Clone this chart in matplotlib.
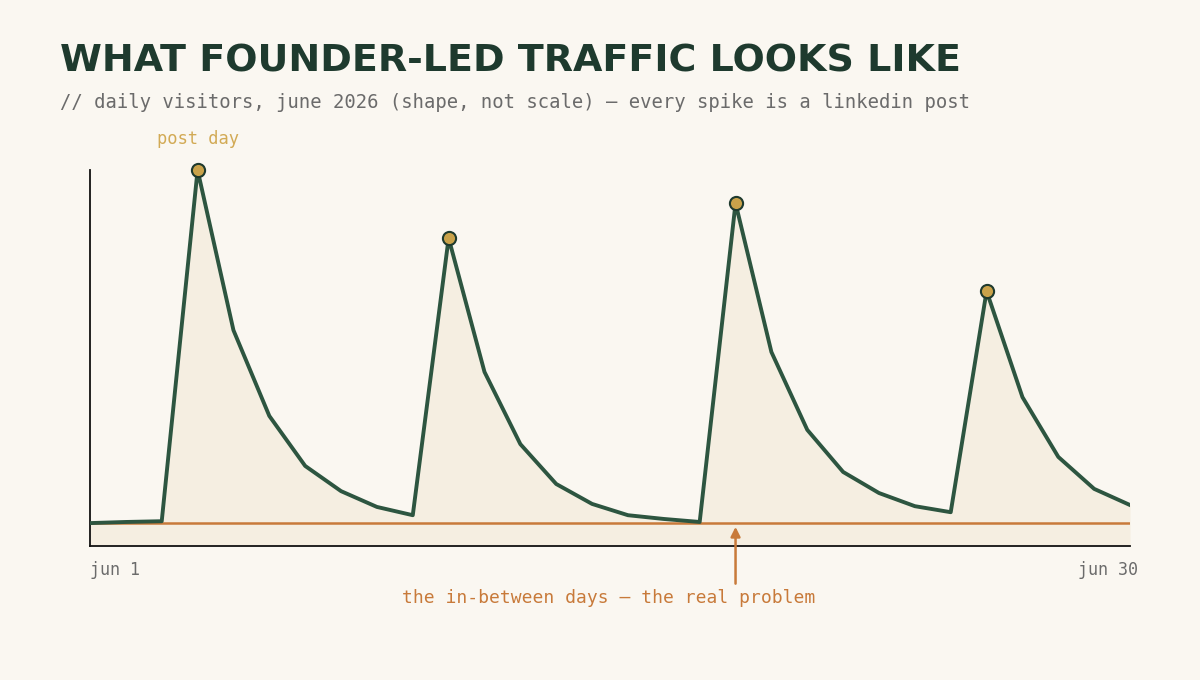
import numpy as np
import matplotlib
matplotlib.use("Agg")
import matplotlib.pyplot as plt

# daily visitors, june 2026 (shape only, arbitrary units)
days = np.arange(1, 31)
visitors = [6.1, 6.4, 6.6, 100.0, 57.4, 34.6, 21.3, 14.6, 10.4, 8.2,
            81.9, 46.3, 27.1, 16.5, 11.2, 8.2, 7.2, 6.4, 91.2, 51.6,
            30.9, 19.7, 14.1, 10.6, 9.0, 67.8, 39.6, 23.7, 15.2, 10.9]
post_days = [4, 11, 19, 26]
baseline = 6.1
arrow_day = 19
tick_days = [1, 30]
tick_labels = ["jun 1", "jun 30"]

BG = "#faf7f1"
FILL = "#f5eee1"
LINE = "#2d5540"
GOLD = "#c9a24a"
ORANGE = "#c87a3a"
DARK = "#1e3a2e"
GREY = "#6b6b6b"
MONO = "DejaVu Sans Mono"

fig = plt.figure(figsize=(12, 6.8), dpi=100, facecolor=BG)
ax = fig.add_axes([0.075, 0.197, 0.8667, 0.553])
ax.set_facecolor(BG)

ax.fill_between(days, visitors, 0, color=FILL, lw=0, zorder=1)
ax.plot(days, visitors, color=LINE, lw=2.8, zorder=3)
ax.axhline(baseline, color=ORANGE, lw=1.8, zorder=2)

peaks = [visitors[d - 1] for d in post_days]
ax.scatter(post_days, peaks, s=90, color=GOLD, edgecolor="#1e3a2e",
           linewidth=1.5, zorder=4, clip_on=False)

ax.set_xlim(1, 30)
ax.set_ylim(0, 100)
for s in ["top", "right"]:
    ax.spines[s].set_visible(False)
for s in ["left", "bottom"]:
    ax.spines[s].set_color("#111111")
    ax.spines[s].set_linewidth(1.3)
ax.set_yticks([])
ax.set_xticks([])

ax.annotate(tick_labels[0], (tick_days[0], 0), xytext=(0, -11),
            textcoords="offset points", ha="left", va="top",
            fontsize=12, family=MONO, color=GREY)
ax.annotate(tick_labels[1], (tick_days[1], 0), xytext=(6, -11),
            textcoords="offset points", ha="right", va="top",
            fontsize=12, family=MONO, color=GREY)

ax.annotate("post day", (post_days[0], 100), xytext=(0, 15.5),
            textcoords="offset points", ha="center", va="bottom",
            fontsize=12.3, family=MONO, color="#d2aa55", annotation_clip=False)

ax.annotate("", xy=(arrow_day, baseline - 1), xytext=(arrow_day, -10),
            arrowprops=dict(arrowstyle="-|>", color=ORANGE, lw=1.8,
                            mutation_scale=14, shrinkA=0, shrinkB=0),
            annotation_clip=False)
fig.text(609 / 1200, 1 - 598 / 680, "the in-between days \u2014 the real problem",
         ha="center", va="center", fontsize=13, family=MONO, color=ORANGE)

fig.text(60 / 1200, 1 - 62 / 680, "WHAT FOUNDER-LED TRAFFIC LOOKS LIKE",
         ha="left", va="center", fontsize=27.4, fontweight="bold", color=DARK)
fig.text(60 / 1200, 1 - 102 / 680,
         "// daily visitors, june 2026 (shape, not scale) \u2014 every spike is a linkedin post",
         ha="left", va="center", fontsize=13.6, family=MONO, color=GREY)

fig.savefig("out.png", dpi=100, facecolor=BG)
